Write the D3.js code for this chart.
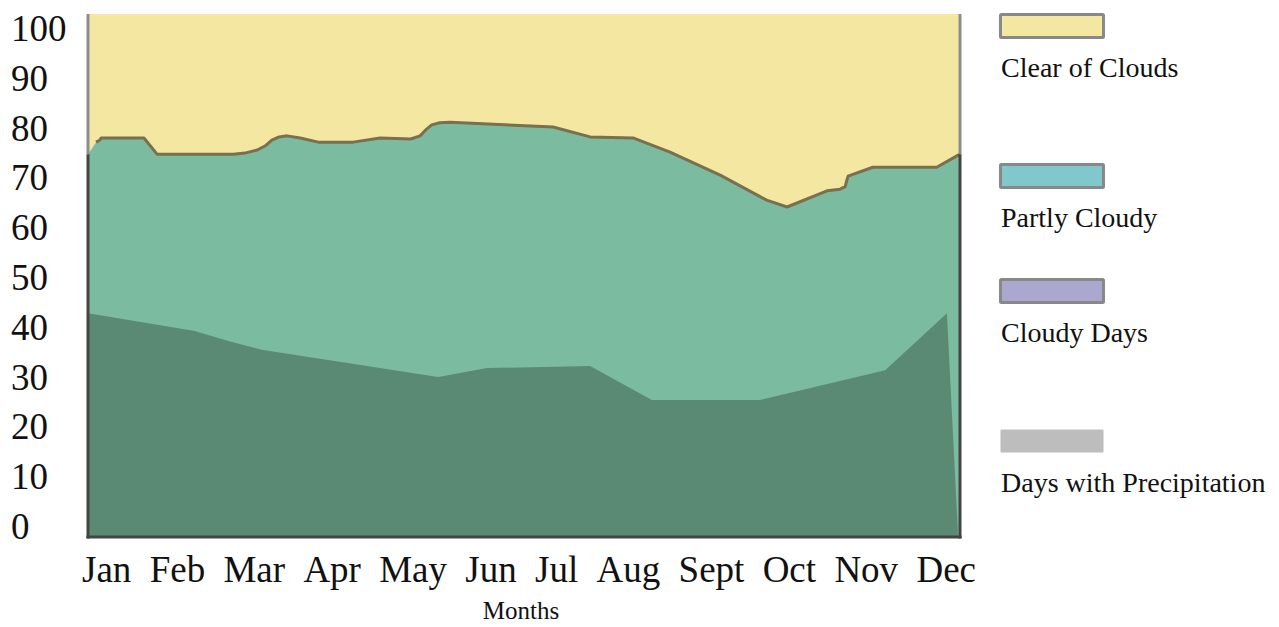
<!DOCTYPE html>
<html>
<head>
<meta charset="utf-8">
<script src="https://cdn.jsdelivr.net/npm/d3@7"></script>
<style>
body { margin: 0; background: #fff; }
text { font-family: "Liberation Serif", "DejaVu Serif", serif; fill: #111; }
</style>
</head>
<body>
<svg class="chart" width="1279" height="627"></svg>
<script>
// Chart data (x = position in months from the left edge, values in percent):

var months = ["Jan", "Feb", "Mar", "Apr", "May", "Jun", "Jul", "Aug", "Sept", "Oct", "Nov", "Dec"];
var yTicks = [0, 10, 20, 30, 40, 50, 60, 70, 80, 90, 100];

// upper edge of the partly cloudy band
var partlyPos = [0, 0.11, 0.165, 0.18, 0.77, 0.95, 2.0, 2.16, 2.33, 2.44, 2.53, 2.63, 2.74, 2.92, 3.17, 3.65,
	4.02, 4.44, 4.57, 4.66, 4.73, 4.84, 4.98, 6.40, 6.91, 7.50, 8.01, 8.70, 9.34, 9.62, 10.17, 10.35,
	10.42, 10.44, 10.46, 10.80, 11.68, 12];
var partlyVal = [73.2, 75.5, 75.9, 76.3, 76.3, 73.2, 73.2, 73.4, 74.0, 74.8, 75.9, 76.5, 76.7, 76.3, 75.5, 75.5,
	76.3, 76.1, 76.7, 78.0, 78.8, 79.2, 79.3, 78.4, 76.5, 76.3, 73.6, 69.2, 64.4, 63.1, 66.2, 66.5,
	67.0, 68.1, 69.0, 70.7, 70.7, 73.2];

// upper edge of the dark (cloudy) band
var cloudyPos = [0, 1.47, 1.93, 2.39, 4.82, 5.49, 6.91, 7.76, 9.25, 10.97, 11.82, 11.97];
var cloudyVal = [42.8, 39.4, 37.5, 35.8, 30.6, 32.3, 32.7, 26.2, 26.2, 31.9, 42.8, 1.3];

var legendLabels = ["Clear of Clouds", "Partly Cloudy", "Cloudy Days", "Days with Precipitation"];

// Styles and layout:

var legendColors = ["#f3e7a1", "#80c8cc", "#aba8d0", "#bdbdbd"],
	legendStroke = ["#888", "#888", "#888", "none"],
	legendTop = [13, 163, 278, 428];

var plot = {left: 88, right: 960, top: 14, bottom: 537};

var chart = d3.select(".chart");

var x = d3.scaleLinear().domain([0, 12]).range([plot.left, plot.right]);
var y = d3.scaleLinear().domain([0, 100]).range([plot.bottom, plot.top]);
// the tick labels sit on their own slightly tighter scale (baselines)
var yLabel = d3.scaleLinear().domain([0, 100]).range([539, 41]);

var partly = partlyPos.map(function(p, i) { return {p: p, v: partlyVal[i]}; });
var cloudy = cloudyPos.map(function(p, i) { return {p: p, v: cloudyVal[i]}; });

// Areas: clear sky above the line, partly cloudy below it, cloudy on top of that

chart.append("path")
	.datum(partly)
	.attr("fill", "#f3e7a1")
	.attr("d", d3.area()
		.x(function(d) { return x(d.p); })
		.y0(function(d) { return y(d.v); })
		.y1(y(100)));

chart.append("path")
	.datum(partly)
	.attr("fill", "#7bbca1")
	.attr("d", d3.area()
		.x(function(d) { return x(d.p); })
		.y0(y(0))
		.y1(function(d) { return y(d.v); }));

chart.append("path")
	.datum(cloudy)
	.attr("fill", "#5b8a74")
	.attr("d", d3.area()
		.x(function(d) { return x(d.p); })
		.y0(y(0))
		.y1(function(d) { return y(d.v); }));

// the outline starts just after the first rise at the left edge
chart.append("path")
	.datum(partly.slice(1))
	.attr("fill", "none")
	.attr("stroke", "#7a6f4f")
	.attr("stroke-width", 3)
	.attr("stroke-linejoin", "round")
	.attr("d", d3.line()
		.x(function(d) { return x(d.p); })
		.y(function(d) { return y(d.v); }));

// Frame: grey beside the clear band, dark beside the green ones

var first = partlyVal[0], last = partlyVal[partlyVal.length - 1];
[[0, first], [12, last]].forEach(function(s) {
	chart.append("line")
		.attr("x1", x(s[0])).attr("x2", x(s[0]))
		.attr("y1", y(100)).attr("y2", y(s[1]))
		.attr("stroke", "#8c8c8c").attr("stroke-width", 3);
	chart.append("line")
		.attr("x1", x(s[0])).attr("x2", x(s[0]))
		.attr("y1", y(s[1])).attr("y2", y(0) + 1.5)
		.attr("stroke", "#444").attr("stroke-width", 3);
});
chart.append("line")
	.attr("x1", x(0) - 1.5).attr("x2", x(12) + 1.5)
	.attr("y1", y(0)).attr("y2", y(0))
	.attr("stroke", "#444").attr("stroke-width", 3);

// Y tick labels

chart.selectAll(".ylab")
	.data(yTicks)
.enter().append("text")
	.attr("class", "ylab")
	.attr("x", 11)
	.attr("y", function(d) { return yLabel(d); })
	.style("font-size", "37px")
	.text(function(d) { return d; });

// Month labels flow along one line from 82 to 976

var mlabs = chart.selectAll(".mlab")
	.data(months)
.enter().append("text")
	.attr("class", "mlab")
	.attr("y", 582)
	.style("font-size", "37px")
	.text(function(d) { return d; });

var widths = [];
mlabs.each(function() { widths.push(this.getComputedTextLength()); });
var gap = (976 - 82 - d3.sum(widths)) / (months.length - 1);
var cursor = 82;
mlabs.attr("x", function(d, i) {
	var pos = cursor;
	cursor += widths[i] + gap;
	return pos;
});

chart.append("text")
	.attr("x", 521)
	.attr("y", 619)
	.style("font-size", "25px")
	.style("text-anchor", "middle")
	.text("Months");

// Legend

var legend = chart.selectAll(".legend")
	.data(legendLabels)
.enter().append("g")
	.attr("class", "legend")
	.attr("transform", function(d, i) { return "translate(1000," + legendTop[i] + ")"; });

legend.append("rect")
	.attr("x", 0.5)
	.attr("y", 1.5)
	.attr("width", 103)
	.attr("height", 23)
	.attr("rx", 1)
	.style("fill", function(d, i) { return legendColors[i]; })
	.style("stroke", function(d, i) { return legendStroke[i]; })
	.style("stroke-width", 3);

legend.append("text")
	.attr("x", 1)
	.attr("y", 64)
	.style("font-size", "28px")
	.text(function(d) { return d; });
</script>
</body>
</html>
